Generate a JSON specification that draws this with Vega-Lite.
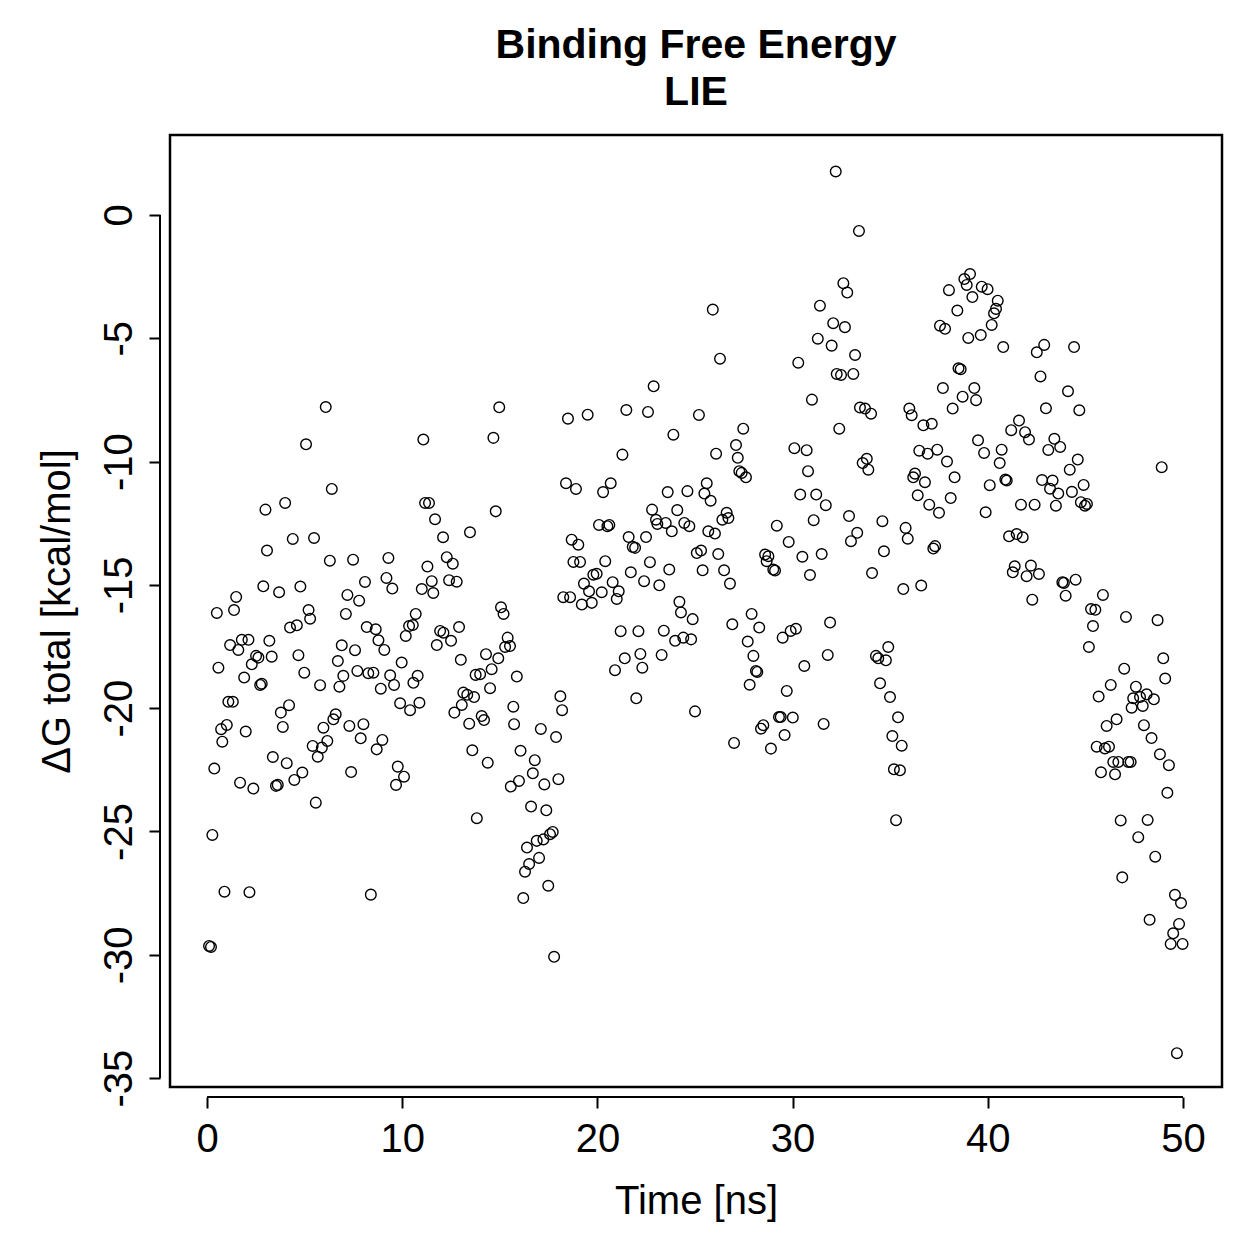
{
  "$schema": "https://vega.github.io/schema/vega-lite/v6.json",
  "width": 1052,
  "height": 952,
  "autosize": {"type": "none"},
  "padding": {"left": 170, "top": 135, "right": 37, "bottom": 172},
  "background": "white",
  "title": {
    "text": ["Binding Free Energy", "LIE"],
    "font": "Liberation Sans",
    "fontSize": 41,
    "fontWeight": "bold",
    "color": "black",
    "anchor": "middle",
    "offset": 21,
    "lineHeight": 47
  },
  "config": {
    "view": {"stroke": "black", "strokeWidth": 2.5},
    "font": "Liberation Sans"
  },
  "layer": [
    {
      "data": {
        "values": [
          {"t":0.10,"dG":-29.64},{"t":0.20,"dG":-29.68},{"t":0.27,"dG":-25.14},{"t":0.37,"dG":-22.45},{"t":0.50,"dG":-16.14},
          {"t":0.58,"dG":-18.36},{"t":0.72,"dG":-20.85},{"t":0.78,"dG":-21.36},{"t":0.89,"dG":-27.44},{"t":1.01,"dG":-20.68},
          {"t":1.09,"dG":-19.74},{"t":1.18,"dG":-17.44},{"t":1.32,"dG":-19.74},{"t":1.38,"dG":-16.02},{"t":1.49,"dG":-15.49},
          {"t":1.60,"dG":-17.64},{"t":1.69,"dG":-23.02},{"t":1.78,"dG":-17.23},{"t":1.90,"dG":-18.76},{"t":1.98,"dG":-20.95},
          {"t":2.12,"dG":-17.23},{"t":2.17,"dG":-27.46},{"t":2.29,"dG":-18.22},{"t":2.37,"dG":-23.26},{"t":2.51,"dG":-17.88},
          {"t":2.63,"dG":-17.95},{"t":2.72,"dG":-19.06},{"t":2.80,"dG":-19.01},{"t":2.88,"dG":-15.06},{"t":2.99,"dG":-11.95},
          {"t":3.07,"dG":-13.61},{"t":3.19,"dG":-17.27},{"t":3.31,"dG":-17.91},{"t":3.37,"dG":-21.98},{"t":3.53,"dG":-23.15},
          {"t":3.62,"dG":-23.11},{"t":3.69,"dG":-15.30},{"t":3.78,"dG":-20.18},{"t":3.88,"dG":-20.76},{"t":4.00,"dG":-11.68},
          {"t":4.08,"dG":-22.23},{"t":4.20,"dG":-19.88},{"t":4.25,"dG":-16.73},{"t":4.39,"dG":-13.14},{"t":4.47,"dG":-22.91},
          {"t":4.60,"dG":-16.64},{"t":4.68,"dG":-17.85},{"t":4.78,"dG":-15.07},{"t":4.88,"dG":-22.61},{"t":4.98,"dG":-18.56},
          {"t":5.07,"dG":-9.30},{"t":5.20,"dG":-16.02},{"t":5.28,"dG":-16.37},{"t":5.41,"dG":-21.53},{"t":5.48,"dG":-13.10},
          {"t":5.57,"dG":-23.83},{"t":5.67,"dG":-21.97},{"t":5.79,"dG":-19.07},{"t":5.88,"dG":-21.60},{"t":5.96,"dG":-20.79},
          {"t":6.08,"dG":-7.79},{"t":6.16,"dG":-21.33},{"t":6.29,"dG":-14.02},{"t":6.39,"dG":-11.11},{"t":6.47,"dG":-20.45},
          {"t":6.59,"dG":-20.25},{"t":6.70,"dG":-18.09},{"t":6.78,"dG":-19.13},{"t":6.90,"dG":-17.45},{"t":6.98,"dG":-18.69},
          {"t":7.11,"dG":-16.18},{"t":7.19,"dG":-15.41},{"t":7.29,"dG":-20.72},{"t":7.38,"dG":-22.59},{"t":7.48,"dG":-13.98},
          {"t":7.58,"dG":-17.65},{"t":7.70,"dG":-18.49},{"t":7.79,"dG":-15.64},{"t":7.87,"dG":-21.22},{"t":8.01,"dG":-20.65},
          {"t":8.09,"dG":-14.88},{"t":8.18,"dG":-16.71},{"t":8.26,"dG":-18.58},{"t":8.39,"dG":-27.56},{"t":8.52,"dG":-18.56},
          {"t":8.64,"dG":-16.80},{"t":8.69,"dG":-21.67},{"t":8.78,"dG":-17.25},{"t":8.90,"dG":-19.21},{"t":8.98,"dG":-21.29},
          {"t":9.08,"dG":-17.64},{"t":9.19,"dG":-14.72},{"t":9.29,"dG":-13.91},{"t":9.38,"dG":-18.67},{"t":9.49,"dG":-15.15},
          {"t":9.58,"dG":-19.06},{"t":9.68,"dG":-23.11},{"t":9.77,"dG":-22.37},{"t":9.89,"dG":-19.80},{"t":9.97,"dG":-18.15},
          {"t":10.09,"dG":-22.78},{"t":10.18,"dG":-17.07},{"t":10.35,"dG":-16.67},{"t":10.40,"dG":-20.08},{"t":10.54,"dG":-16.63},
          {"t":10.57,"dG":-18.97},{"t":10.69,"dG":-16.18},{"t":10.79,"dG":-18.69},{"t":10.88,"dG":-19.78},{"t":11.00,"dG":-15.17},
          {"t":11.08,"dG":-9.11},{"t":11.17,"dG":-11.68},{"t":11.29,"dG":-14.26},{"t":11.37,"dG":-11.68},{"t":11.51,"dG":-14.85},
          {"t":11.59,"dG":-15.33},{"t":11.68,"dG":-12.34},{"t":11.77,"dG":-17.44},{"t":11.94,"dG":-16.87},{"t":12.09,"dG":-13.07},
          {"t":12.11,"dG":-16.94},{"t":12.28,"dG":-13.88},{"t":12.40,"dG":-14.81},{"t":12.50,"dG":-17.27},{"t":12.59,"dG":-14.14},
          {"t":12.67,"dG":-20.18},{"t":12.79,"dG":-14.87},{"t":12.91,"dG":-16.71},{"t":13.00,"dG":-18.04},{"t":13.05,"dG":-19.87},
          {"t":13.13,"dG":-19.37},{"t":13.33,"dG":-19.46},{"t":13.43,"dG":-20.63},{"t":13.47,"dG":-12.87},{"t":13.59,"dG":-21.71},
          {"t":13.68,"dG":-19.55},{"t":13.76,"dG":-18.65},{"t":13.82,"dG":-24.46},{"t":13.99,"dG":-18.62},{"t":14.07,"dG":-20.32},
          {"t":14.19,"dG":-20.48},{"t":14.29,"dG":-17.81},{"t":14.38,"dG":-22.21},{"t":14.50,"dG":-19.19},{"t":14.58,"dG":-18.42},
          {"t":14.67,"dG":-9.04},{"t":14.79,"dG":-12.02},{"t":14.92,"dG":-17.98},{"t":14.97,"dG":-7.80},{"t":15.06,"dG":-15.91},
          {"t":15.19,"dG":-16.18},{"t":15.27,"dG":-17.52},{"t":15.40,"dG":-17.14},{"t":15.52,"dG":-17.48},{"t":15.56,"dG":-23.18},
          {"t":15.69,"dG":-19.94},{"t":15.73,"dG":-20.65},{"t":15.87,"dG":-18.72},{"t":15.98,"dG":-22.95},{"t":16.06,"dG":-21.73},
          {"t":16.20,"dG":-27.70},{"t":16.29,"dG":-26.63},{"t":16.39,"dG":-25.65},{"t":16.50,"dG":-26.32},{"t":16.60,"dG":-23.99},
          {"t":16.69,"dG":-22.64},{"t":16.79,"dG":-22.11},{"t":16.89,"dG":-25.38},{"t":17.01,"dG":-26.07},{"t":17.10,"dG":-20.84},
          {"t":17.23,"dG":-25.32},{"t":17.28,"dG":-23.09},{"t":17.38,"dG":-24.14},{"t":17.48,"dG":-27.20},{"t":17.57,"dG":-25.11},
          {"t":17.71,"dG":-25.02},{"t":17.78,"dG":-30.08},{"t":17.88,"dG":-21.17},{"t":18.00,"dG":-22.88},{"t":18.10,"dG":-19.52},
          {"t":18.19,"dG":-20.08},{"t":18.25,"dG":-15.50},{"t":18.39,"dG":-10.88},{"t":18.49,"dG":-8.26},{"t":18.60,"dG":-15.50},
          {"t":18.68,"dG":-13.17},{"t":18.77,"dG":-14.07},{"t":18.90,"dG":-11.11},{"t":19.02,"dG":-13.37},{"t":19.11,"dG":-14.07},
          {"t":19.20,"dG":-15.80},{"t":19.31,"dG":-14.95},{"t":19.50,"dG":-8.10},{"t":19.57,"dG":-15.26},{"t":19.71,"dG":-15.73},
          {"t":19.79,"dG":-14.59},{"t":19.96,"dG":-14.55},{"t":20.08,"dG":-12.57},{"t":20.22,"dG":-15.30},{"t":20.29,"dG":-11.24},
          {"t":20.40,"dG":-14.04},{"t":20.51,"dG":-12.62},{"t":20.61,"dG":-12.57},{"t":20.68,"dG":-10.88},{"t":20.78,"dG":-14.89},
          {"t":20.90,"dG":-18.46},{"t":20.99,"dG":-15.57},{"t":21.09,"dG":-15.26},{"t":21.19,"dG":-16.88},{"t":21.28,"dG":-9.72},
          {"t":21.40,"dG":-17.98},{"t":21.48,"dG":-7.91},{"t":21.60,"dG":-13.06},{"t":21.71,"dG":-14.49},{"t":21.81,"dG":-13.46},
          {"t":21.93,"dG":-13.50},{"t":21.99,"dG":-19.60},{"t":22.10,"dG":-16.88},{"t":22.20,"dG":-17.80},{"t":22.30,"dG":-18.36},
          {"t":22.39,"dG":-14.85},{"t":22.49,"dG":-13.06},{"t":22.59,"dG":-7.99},{"t":22.69,"dG":-14.08},{"t":22.80,"dG":-11.95},
          {"t":22.88,"dG":-6.95},{"t":23.00,"dG":-12.36},{"t":23.07,"dG":-12.53},{"t":23.17,"dG":-15.02},{"t":23.29,"dG":-17.84},
          {"t":23.40,"dG":-16.86},{"t":23.50,"dG":-12.49},{"t":23.60,"dG":-11.24},{"t":23.68,"dG":-14.38},{"t":23.81,"dG":-12.83},
          {"t":23.89,"dG":-8.91},{"t":23.98,"dG":-17.27},{"t":24.09,"dG":-11.97},{"t":24.20,"dG":-15.69},{"t":24.28,"dG":-16.12},
          {"t":24.40,"dG":-17.14},{"t":24.45,"dG":-12.49},{"t":24.61,"dG":-11.20},{"t":24.71,"dG":-12.62},{"t":24.80,"dG":-17.21},
          {"t":24.88,"dG":-16.39},{"t":25.00,"dG":-20.13},{"t":25.09,"dG":-13.71},{"t":25.20,"dG":-8.11},{"t":25.31,"dG":-13.61},
          {"t":25.39,"dG":-14.41},{"t":25.48,"dG":-11.30},{"t":25.60,"dG":-10.88},{"t":25.68,"dG":-12.83},{"t":25.80,"dG":-11.59},
          {"t":25.91,"dG":-3.84},{"t":26.02,"dG":-12.92},{"t":26.08,"dG":-9.68},{"t":26.19,"dG":-13.75},{"t":26.28,"dG":-5.83},
          {"t":26.40,"dG":-12.36},{"t":26.49,"dG":-14.41},{"t":26.62,"dG":-12.08},{"t":26.71,"dG":-12.29},{"t":26.79,"dG":-14.95},
          {"t":26.91,"dG":-16.60},{"t":27.00,"dG":-21.41},{"t":27.10,"dG":-9.33},{"t":27.19,"dG":-9.85},{"t":27.27,"dG":-10.39},
          {"t":27.39,"dG":-10.46},{"t":27.47,"dG":-8.67},{"t":27.61,"dG":-10.64},{"t":27.70,"dG":-17.30},{"t":27.80,"dG":-19.05},
          {"t":27.90,"dG":-16.18},{"t":27.99,"dG":-17.88},{"t":28.12,"dG":-18.49},{"t":28.19,"dG":-18.53},{"t":28.29,"dG":-16.73},
          {"t":28.38,"dG":-20.83},{"t":28.50,"dG":-20.69},{"t":28.59,"dG":-13.77},{"t":28.67,"dG":-14.04},{"t":28.76,"dG":-13.84},
          {"t":28.89,"dG":-21.64},{"t":29.01,"dG":-14.38},{"t":29.10,"dG":-14.42},{"t":29.19,"dG":-12.60},{"t":29.30,"dG":-20.36},
          {"t":29.39,"dG":-20.36},{"t":29.49,"dG":-17.14},{"t":29.59,"dG":-21.09},{"t":29.70,"dG":-19.30},{"t":29.80,"dG":-13.26},
          {"t":29.90,"dG":-16.87},{"t":30.01,"dG":-20.38},{"t":30.09,"dG":-9.46},{"t":30.17,"dG":-16.78},{"t":30.29,"dG":-5.99},
          {"t":30.39,"dG":-11.34},{"t":30.50,"dG":-13.86},{"t":30.60,"dG":-18.29},{"t":30.72,"dG":-9.54},{"t":30.79,"dG":-10.39},
          {"t":30.89,"dG":-14.60},{"t":30.99,"dG":-7.49},{"t":31.08,"dG":-12.38},{"t":31.21,"dG":-11.34},{"t":31.29,"dG":-5.02},
          {"t":31.40,"dG":-3.68},{"t":31.49,"dG":-13.75},{"t":31.59,"dG":-20.64},{"t":31.70,"dG":-11.77},{"t":31.80,"dG":-17.84},
          {"t":31.92,"dG":-16.53},{"t":32.00,"dG":-5.30},{"t":32.08,"dG":-4.39},{"t":32.21,"dG":1.76},{"t":32.26,"dG":-6.45},
          {"t":32.39,"dG":-8.67},{"t":32.48,"dG":-6.49},{"t":32.60,"dG":-2.77},{"t":32.68,"dG":-4.55},{"t":32.80,"dG":-3.15},
          {"t":32.89,"dG":-12.21},{"t":32.99,"dG":-13.23},{"t":33.11,"dG":-6.45},{"t":33.20,"dG":-5.68},{"t":33.31,"dG":-12.89},
          {"t":33.40,"dG":-0.65},{"t":33.45,"dG":-7.81},{"t":33.59,"dG":-10.06},{"t":33.71,"dG":-7.85},{"t":33.80,"dG":-9.89},
          {"t":33.88,"dG":-10.33},{"t":34.02,"dG":-8.06},{"t":34.07,"dG":-14.52},{"t":34.27,"dG":-17.88},{"t":34.39,"dG":-17.98},
          {"t":34.48,"dG":-18.99},{"t":34.60,"dG":-12.42},{"t":34.68,"dG":-13.64},{"t":34.78,"dG":-18.06},{"t":34.90,"dG":-17.52},
          {"t":34.99,"dG":-19.55},{"t":35.11,"dG":-21.13},{"t":35.19,"dG":-22.48},{"t":35.30,"dG":-24.54},{"t":35.40,"dG":-20.37},
          {"t":35.50,"dG":-22.52},{"t":35.59,"dG":-21.52},{"t":35.67,"dG":-15.17},{"t":35.79,"dG":-12.69},{"t":35.90,"dG":-13.13},
          {"t":35.98,"dG":-7.85},{"t":36.10,"dG":-8.12},{"t":36.18,"dG":-10.64},{"t":36.27,"dG":-10.49},{"t":36.41,"dG":-11.37},
          {"t":36.49,"dG":-9.56},{"t":36.59,"dG":-15.03},{"t":36.70,"dG":-8.53},{"t":36.78,"dG":-10.84},{"t":36.92,"dG":-9.68},
          {"t":37.00,"dG":-11.75},{"t":37.13,"dG":-8.47},{"t":37.21,"dG":-13.53},{"t":37.30,"dG":-13.43},{"t":37.41,"dG":-9.52},
          {"t":37.50,"dG":-12.08},{"t":37.55,"dG":-4.49},{"t":37.70,"dG":-7.02},{"t":37.81,"dG":-4.62},{"t":37.91,"dG":-10.00},
          {"t":38.01,"dG":-3.05},{"t":38.10,"dG":-11.48},{"t":38.20,"dG":-7.85},{"t":38.30,"dG":-10.64},{"t":38.44,"dG":-3.88},
          {"t":38.50,"dG":-6.22},{"t":38.61,"dG":-6.26},{"t":38.71,"dG":-7.37},{"t":38.80,"dG":-2.60},{"t":38.92,"dG":-2.84},
          {"t":39.00,"dG":-4.99},{"t":39.09,"dG":-2.40},{"t":39.21,"dG":-3.33},{"t":39.31,"dG":-7.02},{"t":39.40,"dG":-7.51},
          {"t":39.50,"dG":-9.14},{"t":39.64,"dG":-4.87},{"t":39.69,"dG":-2.91},{"t":39.81,"dG":-9.65},{"t":39.89,"dG":-12.06},
          {"t":39.99,"dG":-3.01},{"t":40.10,"dG":-10.96},{"t":40.20,"dG":-4.46},{"t":40.32,"dG":-3.99},{"t":40.42,"dG":-3.81},
          {"t":40.51,"dG":-3.48},{"t":40.61,"dG":-10.06},{"t":40.71,"dG":-9.52},{"t":40.79,"dG":-5.36},{"t":40.90,"dG":-10.73},
          {"t":40.97,"dG":-10.77},{"t":41.09,"dG":-13.03},{"t":41.20,"dG":-8.73},{"t":41.28,"dG":-14.49},{"t":41.38,"dG":-14.25},
          {"t":41.48,"dG":-12.94},{"t":41.60,"dG":-8.34},{"t":41.70,"dG":-11.75},{"t":41.79,"dG":-13.07},{"t":41.91,"dG":-8.81},
          {"t":41.99,"dG":-14.65},{"t":42.11,"dG":-9.11},{"t":42.21,"dG":-14.22},{"t":42.28,"dG":-15.60},{"t":42.40,"dG":-11.75},
          {"t":42.51,"dG":-5.57},{"t":42.62,"dG":-14.56},{"t":42.70,"dG":-6.55},{"t":42.78,"dG":-10.75},{"t":42.89,"dG":-5.27},
          {"t":42.98,"dG":-7.84},{"t":43.10,"dG":-9.53},{"t":43.19,"dG":-11.10},{"t":43.32,"dG":-10.77},{"t":43.41,"dG":-9.08},
          {"t":43.49,"dG":-11.79},{"t":43.61,"dG":-11.30},{"t":43.71,"dG":-9.41},{"t":43.82,"dG":-14.89},{"t":43.90,"dG":-14.92},
          {"t":43.99,"dG":-15.44},{"t":44.11,"dG":-7.15},{"t":44.20,"dG":-10.33},{"t":44.31,"dG":-11.23},{"t":44.42,"dG":-5.36},
          {"t":44.50,"dG":-14.79},{"t":44.61,"dG":-9.92},{"t":44.69,"dG":-7.92},{"t":44.77,"dG":-11.65},{"t":44.91,"dG":-10.95},
          {"t":44.98,"dG":-11.79},{"t":45.08,"dG":-11.72},{"t":45.18,"dG":-17.52},{"t":45.29,"dG":-15.98},{"t":45.39,"dG":-16.67},
          {"t":45.51,"dG":-16.01},{"t":45.58,"dG":-21.56},{"t":45.68,"dG":-19.53},{"t":45.80,"dG":-22.60},{"t":45.90,"dG":-15.41},
          {"t":46.00,"dG":-21.63},{"t":46.09,"dG":-20.72},{"t":46.21,"dG":-21.56},{"t":46.30,"dG":-19.06},{"t":46.43,"dG":-22.18},
          {"t":46.52,"dG":-22.68},{"t":46.60,"dG":-20.45},{"t":46.69,"dG":-22.18},{"t":46.81,"dG":-24.55},{"t":46.89,"dG":-26.86},
          {"t":46.99,"dG":-18.40},{"t":47.08,"dG":-16.30},{"t":47.20,"dG":-22.18},{"t":47.32,"dG":-22.18},{"t":47.37,"dG":-19.98},
          {"t":47.45,"dG":-19.60},{"t":47.59,"dG":-19.13},{"t":47.71,"dG":-25.23},{"t":47.80,"dG":-19.55},{"t":47.94,"dG":-19.91},
          {"t":48.00,"dG":-20.69},{"t":48.14,"dG":-19.44},{"t":48.19,"dG":-24.53},{"t":48.29,"dG":-28.58},{"t":48.39,"dG":-21.21},
          {"t":48.51,"dG":-19.64},{"t":48.58,"dG":-26.02},{"t":48.70,"dG":-16.43},{"t":48.82,"dG":-21.87},{"t":48.91,"dG":-10.23},
          {"t":48.99,"dG":-17.98},{"t":49.09,"dG":-18.80},{"t":49.20,"dG":-23.43},{"t":49.28,"dG":-22.31},{"t":49.37,"dG":-29.56},
          {"t":49.50,"dG":-29.13},{"t":49.59,"dG":-27.57},{"t":49.69,"dG":-33.99},{"t":49.80,"dG":-28.75},{"t":49.90,"dG":-27.90},
          {"t":49.98,"dG":-29.56}
        ]
      },
      "mark": {"type": "point", "shape": "circle", "filled": false, "size": 113, "strokeWidth": 1.4, "color": "black", "opacity": 1},
      "encoding": {
        "x": {
          "field": "t", "type": "quantitative",
          "scale": {"domain": [-1.9, 52], "nice": false, "zero": false},
          "axis": {
            "title": "Time [ns]", "values": [0, 10, 20, 30, 40, 50], "offset": 10, "domain": false, "grid": false,
            "tickSize": 11, "tickWidth": 2, "tickColor": "black",
            "labelFont": "Liberation Sans", "labelFontSize": 40, "labelColor": "black", "labelPadding": 11,
            "titleFont": "Liberation Sans", "titleFontSize": 40, "titleFontWeight": "normal", "titleColor": "black", "titlePadding": 22
          }
        },
        "y": {
          "field": "dG", "type": "quantitative",
          "scale": {"domain": [-35.36, 3.24], "nice": false, "zero": false},
          "axis": {
            "title": "ΔG total [kcal/mol]", "values": [-35, -30, -25, -20, -15, -10, -5, 0], "offset": 10, "domain": false, "grid": false,
            "labelExpr": "'' + datum.value",
            "tickSize": 11, "tickWidth": 2, "tickColor": "black",
            "labelAngle": -90, "labelAlign": "center", "labelBaseline": "bottom",
            "labelFont": "Liberation Sans", "labelFontSize": 40, "labelColor": "black", "labelPadding": 10,
            "titleFont": "Liberation Sans", "titleFontSize": 40, "titleFontWeight": "normal", "titleColor": "black", "titlePadding": 22
          }
        }
      }
    },
    {
      "data": {"values": [{}]},
      "mark": {"type": "rule", "strokeWidth": 2, "color": "black", "yOffset": 10},
      "encoding": {"x": {"datum": 0}, "x2": {"datum": 50}, "y": {"datum": -35.36}}
    },
    {
      "data": {"values": [{}]},
      "mark": {"type": "rule", "strokeWidth": 2, "color": "black", "xOffset": -10},
      "encoding": {"y": {"datum": 0}, "y2": {"datum": -35}, "x": {"datum": -1.9}}
    }
  ]
}
